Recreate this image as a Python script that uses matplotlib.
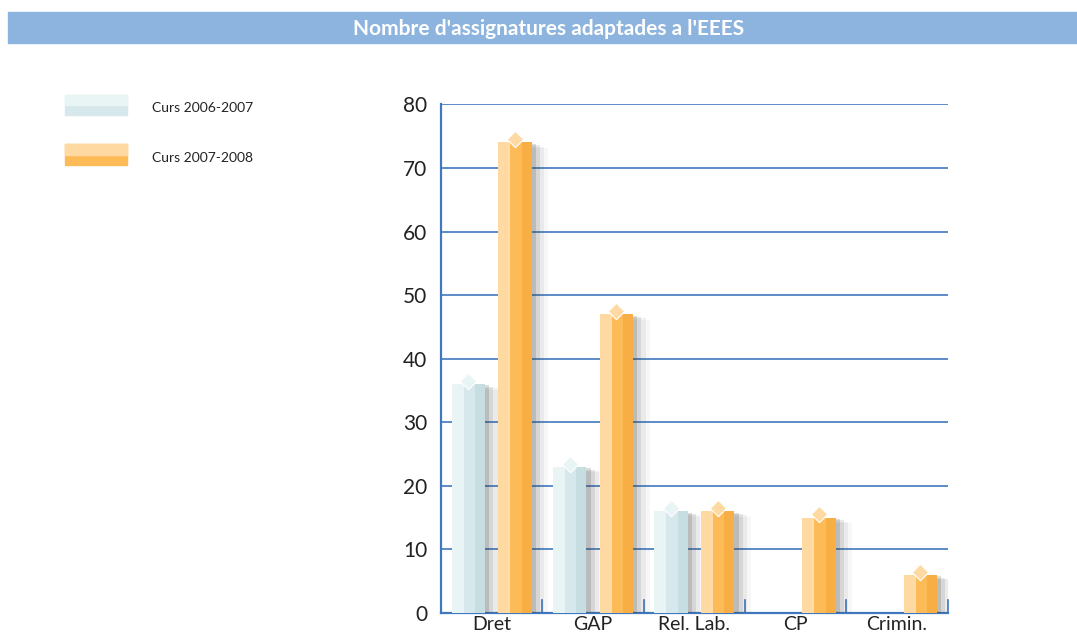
import numpy as np
import matplotlib
matplotlib.use("Agg")
import matplotlib.pyplot as plt
from matplotlib.patches import Rectangle
import matplotlib.patheffects as pe

categories = ["Dret", "GAP", "Rel. Lab.", "CP", "Crimin."]
curs_0607 = [36, 23, 16, 0, 0]
curs_0708 = [74, 47, 16, 15, 6]
series_names = ["Curs 2006-2007", "Curs 2007-2008"]
yticks = [0, 10, 20, 30, 40, 50, 60, 70, 80]

plt.rcParams["font.family"] = ["Lato", "DejaVu Sans"]

blue_cols = ("#e9f4f5", "#d6e8eb", "#c6dde1")
orange_cols = ("#fed9a2", "#fdbb58", "#f7ae45")
grid_col = "#3f78bf"

fig = plt.figure(figsize=(10.77, 6.39), dpi=100)

# title bar
fig.patches.append(Rectangle((8 / 1077, 0.933), 1 - 8 / 1077, 0.048,
                             transform=fig.transFigure, color="#8db4de", zorder=0))
fig.text(0.509, 0.955, "Nombre d'assignatures adaptades a l'EEES", color="white",
         fontsize=15, fontweight="bold", ha="center", va="center")

ax = fig.add_axes([0.4095, 0.0407, 0.4705, 0.796])
x = np.arange(len(categories))
w = 0.33
off = 0.23

# soft drop shadow
shadow = [pe.SimplePatchShadow(offset=(3, -1), shadow_rgbFace="#444444", alpha=0.18),
          pe.SimplePatchShadow(offset=(6, -2), shadow_rgbFace="#444444", alpha=0.12),
          pe.SimplePatchShadow(offset=(9, -3), shadow_rgbFace="#444444", alpha=0.07),
          pe.SimplePatchShadow(offset=(12, -4), shadow_rgbFace="#444444", alpha=0.04),
          pe.Normal()]


def draw_series(xpos, vals, cols):
    vals = np.array(vals, dtype=float)
    mask = vals > 0
    xp, v = xpos[mask], vals[mask]
    ax.bar(xp, v, w, color=cols[1], zorder=3, path_effects=shadow)
    ax.bar(xp - w / 2, v, w * 0.3, align="edge", color=cols[0], zorder=4)
    ax.bar(xp + w * 0.2, v, w * 0.3, align="edge", color=cols[2], zorder=4)
    ax.bar(xp - w * 0.2, v, w * 0.06, align="edge", color="white", alpha=0.5, zorder=5)
    # little cap on top
    ax.scatter(xp, v + 0.5, s=70, marker="D", color=cols[0], edgecolor="white",
               linewidth=0.8, zorder=6)


draw_series(x - off, curs_0607, blue_cols)
draw_series(x + off, curs_0708, orange_cols)

ax.set_xlim(-0.5, len(categories) - 0.5)
ax.set_ylim(0, 80)
ax.set_yticks(yticks)
ax.set_yticklabels([str(t) for t in yticks], fontsize=15, color="#222222")
ax.set_xticks(x)
ax.set_xticklabels(categories, fontsize=14, color="#222222")
ax.tick_params(axis="x", length=0, pad=2)
ax.tick_params(axis="y", length=0, pad=10)
for yv in yticks[1:]:
    ax.axhline(yv, color=grid_col, lw=1.2, zorder=1)
for xb in np.arange(-0.5, len(categories), 1.0):
    ax.plot([xb, xb], [0, 2], color=grid_col, lw=1.2, zorder=2, clip_on=False)
for s in ["top", "right"]:
    ax.spines[s].set_visible(False)
for s in ["left", "bottom"]:
    ax.spines[s].set_color(grid_col)
    ax.spines[s].set_linewidth(1.6)

# legend
for i, (name, cols) in enumerate(zip(series_names, [blue_cols, orange_cols])):
    y0 = 0.82 - i * 0.078
    fig.patches.append(Rectangle((65 / 1077, y0), 62 / 1077, 0.032,
                                 transform=fig.transFigure, color=cols[1], zorder=2))
    fig.patches.append(Rectangle((65 / 1077, y0 + 0.016), 62 / 1077, 0.016,
                                 transform=fig.transFigure, color=cols[0], zorder=3))
    fig.text(152 / 1077, y0 + 0.011, name, fontsize=10, color="#222222", va="center")

fig.savefig("out.png", dpi=100)
